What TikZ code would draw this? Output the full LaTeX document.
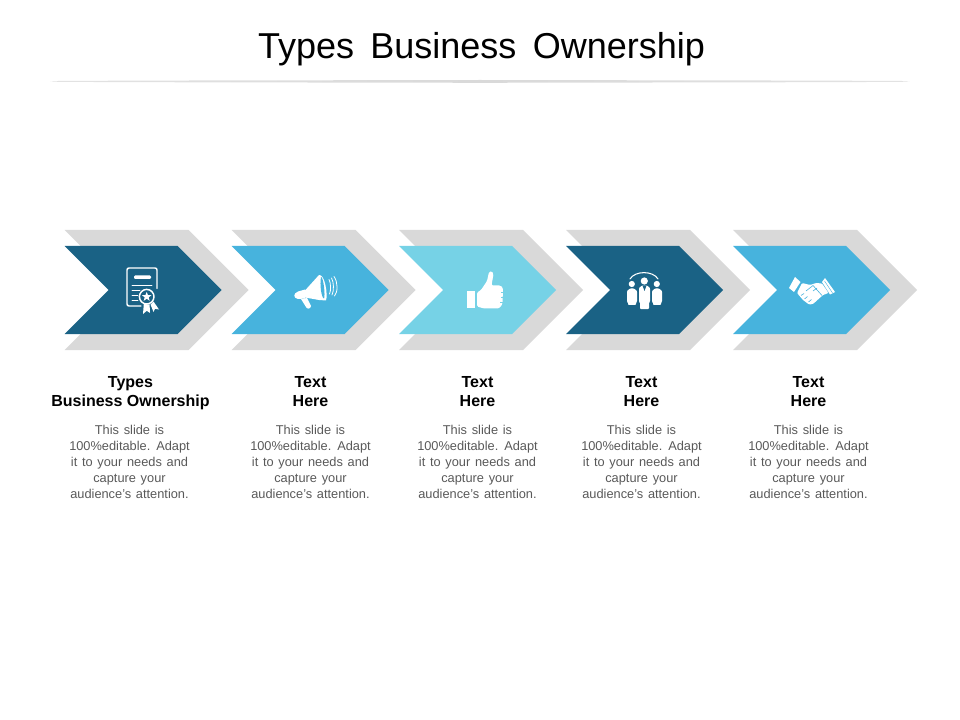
\documentclass[tikz,border=0pt]{standalone}
\usepackage{fontspec}
\setmainfont{Liberation Sans}
\newfontfamily\titlefam[WordSpace=1.95]{Liberation Sans}
\newfontfamily\bodyfam[WordSpace=1.33]{Liberation Sans}
\definecolor{dkblue}{HTML}{1A6285}
\definecolor{mdblue}{HTML}{47B3DD}
\definecolor{ltblue}{HTML}{76D2E6}
\definecolor{chevgray}{HTML}{D9D9D9}
\definecolor{bodytxt}{HTML}{595959}
\tikzset{
  titletext/.style={inner sep=0pt,font=\titlefam\fontsize{27}{32}\selectfont,text=black},
  headtext/.style={inner sep=0pt,align=center,font=\fontsize{12}{14.25}\selectfont\bfseries,text=black},
  bodytext/.style={inner sep=0pt,align=center,font=\bodyfam\fontsize{9.6}{12}\selectfont,text=bodytxt},
  icon/.style={fill=white,draw=none},
  iconline/.style={draw=white,fill=none,line cap=round,line join=round}
}
\newcommand{\chevron}[2]{%
  \fill[chevgray] (#1,230) -- ++(124,0) -- ++(60,60) -- ++(-60,60) -- ++(-124,0) -- ++(60,-60) -- cycle;
  \fill[#2] (#1,246) -- ++(113,0) -- ++(44,44) -- ++(-44,44) -- ++(-113,0) -- ++(44,-44) -- cycle;
}
\begin{document}
\begin{tikzpicture}[x=0.75pt,y=-0.75pt]
\useasboundingbox (0,0) rectangle (960,720);
% title and rule
\node[titletext] (title) at (481.5,49) {Types\hspace{2.3pt} Business\hspace{2.3pt} Ownership};
\shade[left color=chevgray!75,right color=chevgray] (50,81.4) -- (60,80.9) -- (190,80.5) -- (480,80) -- (480,82.8) -- (190,82.3) -- (60,81.9) -- cycle;
\shade[left color=chevgray,right color=chevgray!75] (480,80) -- (770,80.5) -- (900,80.9) -- (910,81.4) -- (900,81.9) -- (770,82.3) -- (480,82.8) -- cycle;
% chevrons
\chevron{64.5}{dkblue}
\chevron{231.5}{mdblue}
\chevron{399}{ltblue}
\chevron{566}{dkblue}
\chevron{733}{mdblue}
% icon 1: certificate
\draw[iconline,line width=1.1pt,rounded corners=1.5pt] (141,306) -- (127,306) -- (127,268) -- (157,268) -- (157,288.5);
\fill[icon,rounded corners=0.8pt] (134,275.5) rectangle (151,279);
\draw[iconline,line width=0.7pt] (132,285) -- (152,285) (132,290) -- (140,290) (132,295) -- (138,295) (132,300) -- (138,300);
\fill[icon] (143.8,304) -- (149.6,304.5) -- (150,313) -- (146.8,310.8) -- (143,314) -- cycle;
\fill[icon] (150.5,304.5) -- (153.5,301.5) -- (159,309.5) -- (155,308.8) -- (153.5,312) -- cycle;
\draw[iconline,line width=1.1pt] (146.7,296.7) circle (7.3);
\fill[icon] (146.7,292) -- (148,295.2) -- (151.4,295.2) -- (148.7,297.4) -- (149.7,300.8) -- (146.7,298.8) -- (143.7,300.8) -- (144.7,297.4) -- (142,295.2) -- (145.4,295.2) -- cycle;
% icon 2: megaphone
\fill[icon] (305,290.5) -- (319,275) .. controls (325,274) and (328,295) .. (326,300.5) -- (319,300) -- (305,297.5) -- cycle;
\fill[mdblue] (321,277) .. controls (323.5,277) and (325.5,296) .. (324,298.5) .. controls (321.5,298) and (319.5,285) .. (321,277) -- cycle;
\fill[icon] (305,289.5) -- (298,291.5) .. controls (293,293.5) and (293,298) .. (298,299) -- (305,298.5) -- cycle;
\fill[icon] (301,299) -- (307,298) -- (311,306) .. controls (310.5,309.5) and (306.5,309) .. (306,307) -- cycle;
\draw[iconline,line width=0.6pt] (329,279.5) .. controls (331,283) and (331,291) .. (329.5,294);
\draw[iconline,line width=0.6pt] (331.5,278) .. controls (334,282) and (334,291) .. (332,295);
\draw[iconline,line width=0.6pt] (334,276.5) .. controls (338,282) and (338,292) .. (334.5,296);
% icon 3: thumb up
\fill[icon] (467,291) rectangle (474.5,308);
\fill[icon,rounded corners=1pt] (477,292.5) -- (481,290) -- (487,281) -- (489,272) -- (491.5,271) -- (493.5,274) -- (491.5,285.5) -- (500.5,285.5) -- (503,288) -- (502.5,304) -- (499,308.5) -- (484,308.5) -- (477,306.5) -- cycle;
\draw[ltblue,line width=0.3pt] (501,292) -- (503.5,292) (501,297) -- (503.5,297) (500,302) -- (503,302);
% icon 4: people
\draw[iconline,line width=0.8pt] (630,279) .. controls (635,270.5) and (653,270.5) .. (658,279);
\fill[icon] (644.3,281) circle (3.6);
\fill[icon] (631.8,284) circle (3.1);
\fill[icon] (656.8,284) circle (3.1);
\fill[icon,rounded corners=0.6pt] (627,291) -- (630,288.5) -- (634,288.5) -- (637,291) -- (637,302) -- (636,302) -- (636,305) -- (628,305) -- (628,302) -- (627,302) -- cycle;
\fill[icon,rounded corners=0.6pt] (652,291) -- (655,288.5) -- (659,288.5) -- (662,291) -- (662,302) -- (661,302) -- (661,305) -- (653,305) -- (653,302) -- (652,302) -- cycle;
\fill[icon,rounded corners=0.6pt] (639,288) -- (642,285.5) -- (647,285.5) -- (650,288) -- (650,302) -- (649,302) -- (649,309) -- (640,309) -- (640,302) -- (639,302) -- cycle;
\fill[dkblue] (642.5,285.5) -- (644.5,291) -- (646.5,285.5) -- cycle;
% icon 5: handshake
\fill[icon] (795,277) -- (800.5,282) -- (794,292) -- (789,288) -- cycle;
\fill[icon] (825,278) -- (835,292) -- (830,294.5) -- (822,282) -- cycle;
\draw[mdblue,line width=0.3pt] (824.5,281) -- (832.5,293);
\fill[icon,rounded corners=0.8pt] (802,283) -- (810,285) -- (816,283) -- (822,283.5) -- (828.5,293) -- (823,295) -- (813,304) -- (809,304.5) -- (803,300) -- (797,293) -- cycle;
\draw[mdblue,line width=0.45pt] (806,291) -- (813,285.5) -- (822,295.5) (813,291) -- (817,288);
\draw[mdblue,line width=0.45pt] (801,295.5) -- (804,293.5) (804.5,299) -- (807.5,296.5) (808.5,302) -- (811.5,299.5);
% labels
\node[headtext] (h1) at (130.5,393.5) {Types\\Business Ownership};
\node[headtext] (h2) at (310.5,391.5) {Text\\Here};
\node[headtext] (h3) at (477.5,391.5) {Text\\Here};
\node[headtext] (h4) at (641.5,391.5) {Text\\Here};
\node[headtext] (h5) at (808.5,391.5) {Text\\Here};
\foreach \n/\x in {b1/129.5,b2/310.5,b3/477.5,b4/641.5,b5/808.5}
  \node[bodytext] (\n) at (\x,462) {This slide is\\100\%editable. Adapt\\it to your needs and\\capture your\\audience’s attention.};
\end{tikzpicture}
\end{document}
